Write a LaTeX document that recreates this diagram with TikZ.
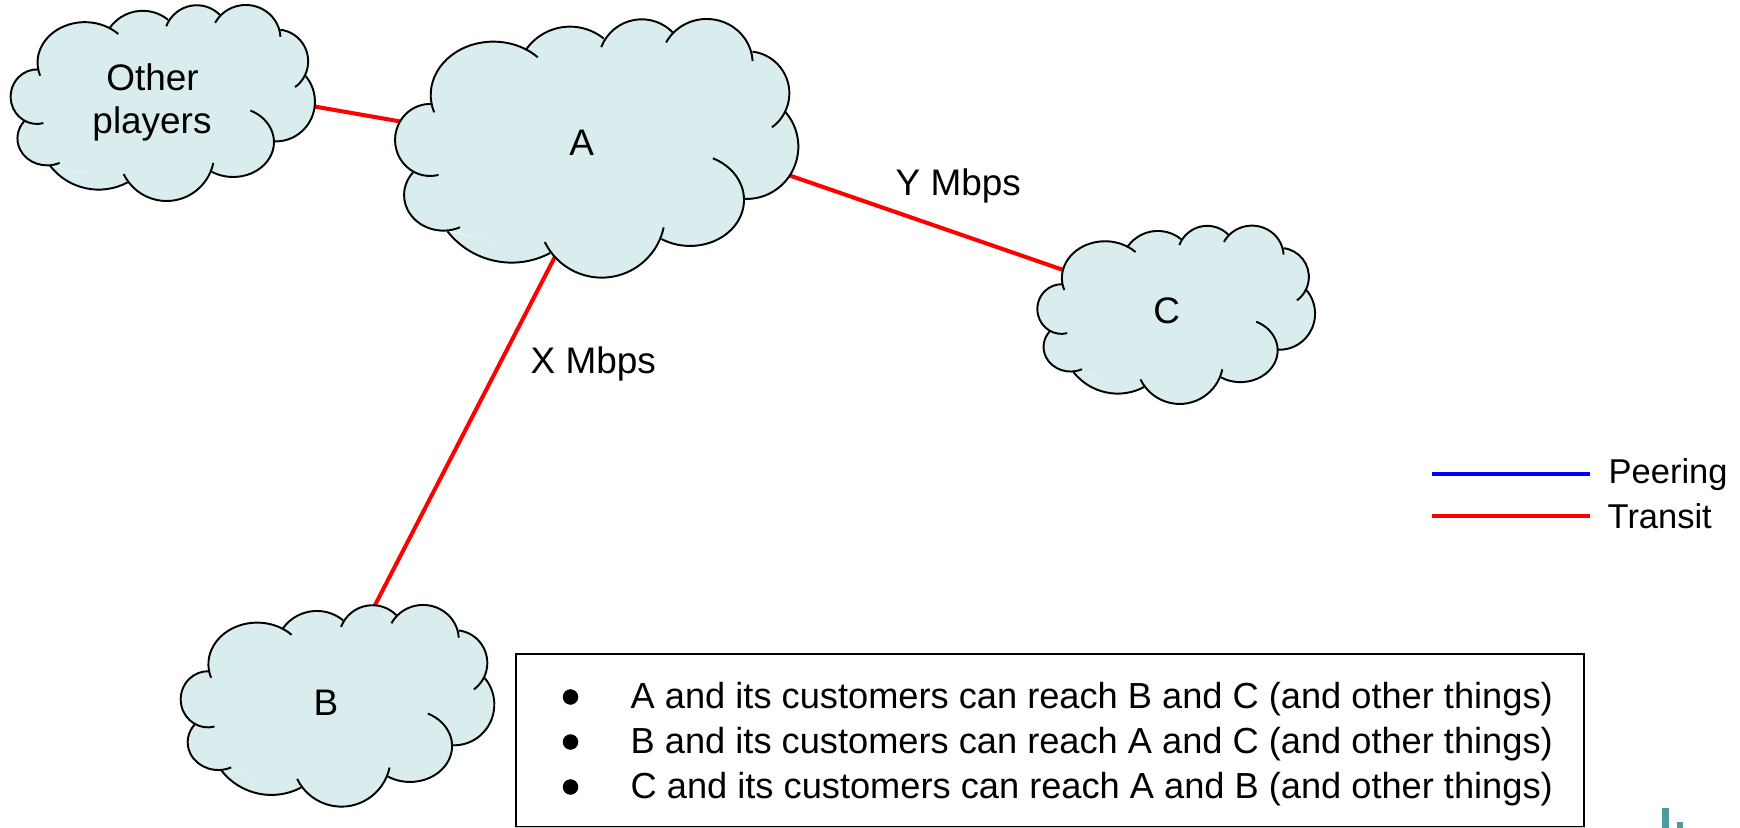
\documentclass[tikz,border=0pt]{standalone}
\usepackage{fontspec}
\setmainfont{Liberation Sans}
\definecolor{cloudblue}{HTML}{D9ECEE}
\definecolor{markteal}{HTML}{4F9A9A}
\definecolor{boxedge}{HTML}{C8C8C8}
\def\cloudarcs{-310/-160/188/160/161/315, -80/-204/161/161/214/309, 135/-257/130/130/201/316, 330/-255/138/133/208/357, 452/-165/126/126/277/414, 450/-5/155/157/318/453, 280/155/162/138/295/482, 15/198/190/190/12/154, -255/98/245/245/62/142, -460/140/118/107/65/222, -500/-25/105/108/76/273}
\tikzset{
  cloud/.pic={
    \fill[cloudblue] (-495,-130) -- (-213,-295) -- (22,-330) -- (230,-347) -- (468,-290) -- (565,-110) -- (443,152) -- (195,270) -- (-140,317) -- (-445,247) -- (-545,70) -- cycle;
    \foreach \cx/\cy/\rx/\ry/\from/\to [expand list] in \cloudarcs
      \fill[cloudblue] (\cx,\cy) ++(\from:{\rx} and {\ry}) arc[start angle=\from,end angle=\to,x radius=\rx,y radius=\ry];
    \foreach \cx/\cy/\rx/\ry/\from/\to [expand list] in \cloudarcs
      \draw[line width=0.55pt,black] (\cx,\cy) ++(\from:{\rx} and {\ry}) arc[start angle=\from,end angle=\to,x radius=\rx,y radius=\ry];
  },
  label/.style={inner sep=0,anchor=base west,font=\fontsize{10.5}{12}\selectfont},
  keylabel/.style={label,font=\fontsize{9.8}{12}\selectfont},
  notelabel/.style={label,font=\fontsize{10.3}{12}\selectfont},
  cloudlabel/.style={inner sep=0,anchor=base,font=\fontsize{10.5}{12}\selectfont},
  notedot/.style={circle,fill=black,inner sep=0,minimum size=0.155cm},
  link/.style={line width=1.15pt,red},
}
\begin{document}
\begin{tikzpicture}[x=0.01cm,y=-0.01cm]
\useasboundingbox (0,0) rectangle (1740,828);
\coordinate (others-east) at (300,104);
\coordinate (A-west) at (420,124.9);
\coordinate (A-south) at (568.8,230);
\coordinate (B-north) at (364.7,625);
\coordinate (A-east) at (770,168.7);
\coordinate (C-west) at (1085,277.5);
\draw[link] (others-east) -- (A-west);
\draw[link] (A-south) -- (B-north);
\draw[link] (A-east) -- (C-west);
\pic[xscale=0.2515,yscale=0.2526] at (162.8,103) {cloud};
\pic[xscale=0.3333,yscale=0.3333] at (596.7,148.3) {cloud};
\pic[xscale=0.2592,yscale=0.2599] at (337.5,705.8) {cloud};
\pic[xscale=0.2295,yscale=0.2298] at (1176.2,314.8) {cloud};
\node[cloudlabel] (others1) at (152.5,90.5) {Other};
\node[cloudlabel] (others2) at (152,133.3) {players};
\node[cloudlabel] (A) at (581.7,156) {A};
\node[cloudlabel] (B) at (326,715) {B};
\node[cloudlabel] (C) at (1166.7,324) {C};
\node[label] (ymbps) at (895,195.5) {Y Mbps};
\node[label] (xmbps) at (530,373.5) {X Mbps};
% legend
\coordinate (peer-a) at (1432,474);
\coordinate (peer-b) at (1590,474);
\coordinate (transit-a) at (1432,516);
\coordinate (transit-b) at (1590,516);
\draw[line width=1.15pt,blue] (peer-a) -- (peer-b);
\draw[link] (transit-a) -- (transit-b);
\node[keylabel] (peering) at (1608,484) {Peering};
\node[keylabel] (transit) at (1607,529) {Transit};
% notes box
\node[draw,line width=0.55pt,inner sep=0,minimum width=10.68cm,minimum height=1.727cm] (notes) at (1049.9,740.4) {};
\draw[line width=0.7pt,boxedge] (notes.south west) -- (notes.south east);
\node[notelabel] (note1) at (630,708) {A and its customers can reach B and C (and other things)};
\node[notelabel] (note2) at (630,753.5) {B and its customers can reach A and C (and other things)};
\node[notelabel] (note3) at (630,798) {C and its customers can reach A and B (and other things)};
\node[notedot] (dot1) at (570.5,697) {};
\node[notedot] (dot2) at (570.5,742) {};
\node[notedot] (dot3) at (570.5,787) {};
% cut off letter
\fill[markteal] (1662,808) rectangle (1669,828);
\fill[markteal] (1677,822) rectangle (1683,828);
\end{tikzpicture}
\end{document}
